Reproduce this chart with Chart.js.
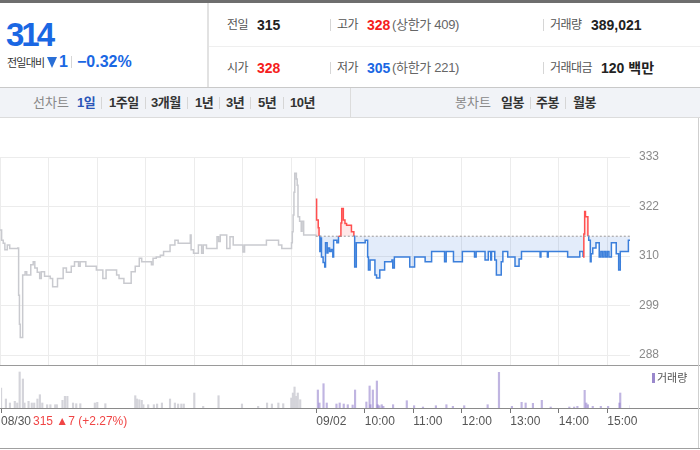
<!DOCTYPE html>
<html lang="ko">
<head>
<meta charset="utf-8">
<title>시세 차트</title>
<script src="https://cdn.jsdelivr.net/npm/chart.js@4.4.0/dist/chart.umd.min.js"></script>
<style>
    body { margin: 0; background: #fff; font-family: "Liberation Sans", "Noto Sans CJK KR", sans-serif; }
    #wrap { position: relative; width: 700px; height: 450px; overflow: hidden; background: #fff; }
    .t { position: absolute; white-space: nowrap; line-height: 16px; }
    .lbl { font-size: 12px; color: #555; letter-spacing: -0.5px; }
    .val { font-size: 14px; font-weight: bold; color: #222; }
    .sub { font-size: 13px; color: #666; letter-spacing: -0.3px; }
    .red { color: #f51d1d; }
    .blue { color: #1a67e3; }
    .line { position: absolute; }
    .tab { font-size: 13px; font-weight: bold; color: #333; letter-spacing: -0.5px; }
    .tabhead { font-size: 13px; color: #888; }
    .bar { position: absolute; width: 1px; height: 12px; background: #d6d6d6; }
    canvas { position: absolute; }
</style>
</head>
<body>
<div id="wrap">
    <!-- 상단 시세 영역 -->
    <div class="line" style="left:0;top:0;width:700px;height:3px;background:#6e6e6e"></div>
    <div class="t blue" style="left:6px;top:17px;font-size:33px;line-height:36px;font-weight:bold;letter-spacing:-3px">314</div>
    <div class="t" style="left:7px;top:55px;font-size:11px;color:#333;letter-spacing:-0.8px">전일대비</div>
    <div class="line" style="left:47px;top:57px;width:0;height:0;border-left:5.5px solid transparent;border-right:5.5px solid transparent;border-top:11px solid #2a6fd6"></div>
    <div class="t blue" style="left:59px;top:53px;font-size:16px;line-height:18px;font-weight:bold">1</div>
    <div class="bar" style="left:71px;top:56px"></div>
    <div class="t blue" style="left:77px;top:53px;font-size:16px;line-height:18px;font-weight:bold">−0.32%</div>
    <div class="line" style="left:207px;top:3px;width:2px;height:85px;background:#e2e2e2"></div>
    <div class="line" style="left:209px;top:46px;width:491px;height:1px;background:#efefef"></div>

    <div class="t lbl" style="left:227px;top:17px">전일</div>
    <div class="t val" style="left:257px;top:17px">315</div>
    <div class="bar" style="left:330px;top:19px"></div>
    <div class="t lbl" style="left:337px;top:17px">고가</div>
    <div class="t val red" style="left:367px;top:17px">328</div>
    <div class="t sub" style="left:392px;top:17px">(상한가 409)</div>
    <div class="bar" style="left:543px;top:19px"></div>
    <div class="t lbl" style="left:550px;top:17px">거래량</div>
    <div class="t val" style="left:591px;top:17px">389,021</div>

    <div class="t lbl" style="left:227px;top:60px">시가</div>
    <div class="t val red" style="left:257px;top:60px">328</div>
    <div class="bar" style="left:330px;top:62px"></div>
    <div class="t lbl" style="left:337px;top:60px">저가</div>
    <div class="t val blue" style="left:367px;top:60px">305</div>
    <div class="t sub" style="left:392px;top:60px">(하한가 221)</div>
    <div class="bar" style="left:543px;top:62px"></div>
    <div class="t lbl" style="left:550px;top:60px">거래대금</div>
    <div class="t val" style="left:601px;top:60px">120 백만</div>

    <!-- 기간 탭 -->
    <div class="line" style="left:0;top:87px;width:700px;height:31px;background:#f1f3f7;border-top:1px solid #c9c9c9;border-bottom:1px solid #dcdcdc;box-sizing:border-box"></div>
    <div class="line" style="left:350px;top:88px;width:1px;height:30px;background:#dcdcdc"></div>
    <div class="t tabhead" style="left:33px;top:95px">선차트</div>
    <div class="t tab" style="left:77px;top:95px;color:#2b56b8">1일</div>
    <div class="bar" style="left:101px;top:97px"></div>
    <div class="t tab" style="left:109px;top:95px">1주일</div>
    <div class="bar" style="left:145px;top:97px"></div>
    <div class="t tab" style="left:151px;top:95px">3개월</div>
    <div class="bar" style="left:187px;top:97px"></div>
    <div class="t tab" style="left:195px;top:95px">1년</div>
    <div class="bar" style="left:219px;top:97px"></div>
    <div class="t tab" style="left:226px;top:95px">3년</div>
    <div class="bar" style="left:250px;top:97px"></div>
    <div class="t tab" style="left:258px;top:95px">5년</div>
    <div class="bar" style="left:283px;top:97px"></div>
    <div class="t tab" style="left:290px;top:95px">10년</div>
    <div class="t tabhead" style="left:455px;top:95px">봉차트</div>
    <div class="t tab" style="left:501px;top:95px">일봉</div>
    <div class="bar" style="left:530px;top:97px"></div>
    <div class="t tab" style="left:536px;top:95px">주봉</div>
    <div class="bar" style="left:565px;top:97px"></div>
    <div class="t tab" style="left:573px;top:95px">월봉</div>

    <!-- 차트 -->
    <canvas id="volumeChart" width="700" height="72" style="left:0;top:366px;width:700px;height:72px"></canvas>
    <canvas id="priceChart" width="700" height="224" style="left:0;top:149px;width:700px;height:224px"></canvas>
    <div class="line" style="left:0;top:365px;width:700px;height:1px;background:#9a9a9a"></div>
    <div class="line" style="left:0;top:408px;width:700px;height:1px;background:#8a8a8a"></div>
    <div class="line" style="left:0;top:448px;width:700px;height:1px;background:#a0a0a0"></div>
    <div class="line" style="left:698px;top:118px;width:1px;height:330px;background:#cfcfcf"></div>

    <div class="line" style="left:652px;top:373px;width:3px;height:10px;background:#9a88cc"></div>
    <div class="t" style="left:657px;top:370px;font-size:11px;color:#555">거래량</div>
    <div class="t" style="left:33px;top:413px;font-size:12px;color:#f04545">315 ▲7 (+2.27%)</div>
</div>

<script>
// 전일(08/30) 분봉 - 장 시작 후 경과 분, 가격
const prevMinutes = [0, 2, 4, 6, 9, 12, 22, 23, 24, 25, 27, 28, 31, 33, 38, 41, 43, 46, 49, 51, 55, 62, 65, 71, 78, 82, 88, 92, 97, 99, 106, 119, 127, 131, 144, 147, 153, 162, 167, 172, 175, 187, 189, 193, 198, 202, 210, 216, 220, 235, 236, 239, 245, 249, 251, 255, 268, 270, 272, 280, 284, 288, 300, 302, 329, 344, 348, 360, 361, 362, 363, 364, 366, 367, 368, 370, 372, 373, 375, 390];
const prevPrices = [316.4, 314.1, 313.4, 311.9, 313, 312.2, 312.3, 301.6, 295, 292, 292, 306.2, 306.9, 306.2, 308.5, 309.2, 307.8, 306.8, 305.4, 306.9, 305.9, 305.4, 303.5, 305.4, 307.8, 306.8, 308.2, 309.2, 308.2, 309.2, 308.2, 307.3, 305.4, 307.3, 306.2, 305.4, 304.3, 306.9, 308.2, 310, 309.2, 308.5, 310, 310.3, 310.7, 311.5, 313, 314.1, 313.4, 315.3, 311.9, 311.1, 313, 311.1, 313, 312.2, 314.9, 313.8, 315.3, 312.2, 314.9, 313, 311.4, 313, 314.1, 313, 312.2, 313.5, 316, 319.8, 325, 329.3, 328, 326.6, 319.4, 318.4, 316.1, 318.4, 315.3, 315];

// 당일(09/02) 분봉
const todayMinutes = [0, 1, 3, 4, 5, 6, 7, 9, 11, 12, 14, 15, 17, 19, 21, 22, 26, 28, 31, 32, 34, 36, 38, 44, 47, 48, 50, 61, 64, 65, 67, 73, 75, 79, 85, 94, 95, 97, 116, 122, 135, 143, 159, 161, 170, 181, 196, 198, 209, 213, 216, 217, 221, 223, 229, 231, 237, 246, 251, 254, 277, 278, 286, 287, 311, 326, 330, 331, 332, 333, 336, 337, 339, 340, 342, 346, 350, 352, 354, 356, 358, 360, 362, 365, 371, 374, 376, 386, 389];
const todayPrices = [323.4, 318.7, 316.9, 315, 311.5, 314.6, 310.3, 309, 308, 313.5, 311.2, 312.3, 311.5, 312, 310.3, 314.1, 313.5, 315, 318, 321.3, 318.7, 317.9, 317.5, 316, 315, 308, 313.5, 314.1, 310.3, 307.3, 309.6, 306.2, 305.5, 307.3, 309.2, 309.6, 307.8, 310.3, 308, 310.3, 309.2, 311.5, 309.2, 311.5, 309.2, 311.5, 310.3, 311.5, 309.6, 311.5, 309.6, 311.5, 309.6, 306.2, 309.2, 311.5, 310.3, 308.2, 309.8, 311.5, 310.3, 311.5, 310.3, 311.5, 310.3, 311.5, 310.3, 315.5, 320.6, 319.4, 315, 314.1, 309.2, 311, 312.3, 313.5, 310.3, 311.5, 310.3, 311.5, 310.3, 311.5, 310.3, 313.5, 311, 307.3, 311.5, 314.1, 314.1];

// 거래량
const prevVolMinutes = [1, 7, 12, 18, 21, 24, 28, 30, 35, 39, 42, 46, 49, 52, 58, 62, 68, 70, 77, 80, 83, 90, 94, 99, 117, 120, 130, 167, 169, 172, 175, 177, 183, 190, 194, 200, 210, 216, 220, 224, 227, 240, 251, 270, 299, 319, 330, 336, 344, 350, 360, 362, 364, 366, 368, 371];
const prevVolumes = [20000, 9000, 5000, 6700, 5000, 36000, 29000, 5000, 6700, 5000, 5000, 9000, 13300, 5000, 3300, 3300, 3300, 3300, 7700, 11700, 11700, 5000, 4300, 4300, 5000, 5700, 4300, 12300, 9000, 8300, 7700, 3300, 3300, 3300, 4000, 5000, 9000, 5000, 4000, 4000, 4000, 15000, 1700, 12300, 4000, 1700, 5000, 4000, 5000, 4300, 10000, 15000, 21000, 11700, 15000, 8300];
const todayVolMinutes = [1, 3, 8, 12, 24, 28, 33, 38, 44, 47, 61, 65, 66, 69, 74, 75, 77, 80, 82, 94, 111, 120, 131, 147, 160, 168, 182, 211, 225, 241, 253, 258, 267, 278, 289, 312, 318, 322, 331, 333, 335, 341, 351, 360, 374, 375, 388];
const todayVolumes = [18000, 5000, 24300, 5000, 4000, 5000, 4000, 3300, 3000, 18000, 6000, 22000, 3300, 18000, 27000, 3300, 2300, 3300, 1700, 3300, 7300, 2300, 1000, 2300, 3300, 1700, 2300, 3300, 35700, 1700, 5700, 5000, 4700, 7700, 1000, 1000, 1000, 1700, 17700, 5000, 3300, 1700, 1700, 1700, 5000, 15000, 2300];

const prevClose = 315;
const dayLength = 390;
const axisEnd = 778;
const priceMin = 285.73;
const priceMax = 333;
const priceTicks = [288, 299.25, 310.5, 321.75, 333];
const priceTickLabels = ['288', '299', '310', '322', '333'];
const gridMinutes = [0, 60, 120, 180, 240, 300, 360, 390, 450, 510, 570, 630, 690, 750];
const timeTickMinutes = [0, 390, 450, 510, 570, 630, 690, 750];
const timeTickLabels = ['08/30', '09/02', '10:00', '11:00', '12:00', '13:00', '14:00', '15:00'];

const RED = '#ff4f4f';
const BLUE = '#3b7fdb';

function toPoints(xs, ys, offset) {
    return xs.map((x, i) => ({ x: x + offset, y: ys[i] }));
}

document.addEventListener('DOMContentLoaded', function() {
    drawPriceChart();
    drawVolumeChart();
});

// 가격 차트
function drawPriceChart() {
    const ctx = document.getElementById('priceChart').getContext('2d');
    new Chart(ctx, {
        type: 'line',
        data: {
            datasets: [
                {
                    // 전일 종가 기준선
                    data: [{ x: dayLength, y: prevClose }, { x: axisEnd, y: prevClose }],
                    borderColor: '#9a9a9a',
                    borderWidth: 1,
                    borderDash: [2, 2],
                    fill: false
                },
                {
                    data: toPoints(prevMinutes, prevPrices, 0),
                    borderColor: '#c9cacf',
                    borderWidth: 1.5,
                    stepped: true,
                    fill: false
                },
                {
                    data: toPoints(todayMinutes, todayPrices, dayLength),
                    borderColor: BLUE,
                    borderWidth: 1.5,
                    stepped: true,
                    fill: {
                        target: { value: prevClose },
                        above: 'rgba(255, 90, 90, 0.14)',
                        below: 'rgba(60, 120, 220, 0.14)'
                    },
                    segment: {
                        borderColor: c => (c.p0.parsed.y > prevClose || c.p1.parsed.y > prevClose) ? RED : BLUE
                    }
                }
            ]
        },
        options: {
            responsive: false,
            animation: false,
            parsing: false,
            elements: { point: { radius: 0, hoverRadius: 0 } },
            layout: { autoPadding: false, padding: { top: 8, right: 0, left: 0, bottom: 8 } },
            plugins: { legend: { display: false }, tooltip: { enabled: false } },
            scales: {
                x: {
                    type: 'linear',
                    min: 0,
                    max: axisEnd,
                    afterBuildTicks: scale => { scale.ticks = gridMinutes.map(v => ({ value: v })); },
                    afterFit: scale => { scale.height = 0; },
                    ticks: { display: false },
                    grid: { color: '#ececec', drawTicks: false },
                    border: { display: false }
                },
                y: {
                    position: 'right',
                    min: priceMin,
                    max: priceMax,
                    afterBuildTicks: scale => { scale.ticks = priceTicks.map(v => ({ value: v })); },
                    afterFit: scale => { scale.width = 70; },
                    ticks: {
                        padding: 0,
                        color: '#8a8a8a',
                        font: { size: 12, family: 'Liberation Sans', lineHeight: 1 },
                        callback: (v, i) => priceTickLabels[i]
                    },
                    grid: { color: '#ececec', drawTicks: true, tickLength: 9, tickColor: 'rgba(0,0,0,0)' },
                    border: { display: false }
                }
            }
        }
    });
}

// 거래량 차트
function drawVolumeChart() {
    const ctx = document.getElementById('volumeChart').getContext('2d');
    new Chart(ctx, {
        type: 'bar',
        data: {
            datasets: [
                {
                    data: toPoints(prevVolMinutes, prevVolumes, 0),
                    backgroundColor: '#d4d4da',
                    barThickness: 1.5
                },
                {
                    data: toPoints(todayVolMinutes, todayVolumes, dayLength),
                    backgroundColor: 'rgba(140, 120, 200, 0.55)',
                    barThickness: 1.5
                }
            ]
        },
        options: {
            responsive: false,
            animation: false,
            layout: { autoPadding: false, padding: { top: 0, right: 70, left: 0, bottom: 0 } },
            plugins: { legend: { display: false }, tooltip: { enabled: false } },
            scales: {
                x: {
                    type: 'linear',
                    offset: false,
                    min: 0,
                    max: axisEnd,
                    afterBuildTicks: scale => { scale.ticks = timeTickMinutes.map(v => ({ value: v })); },
                    afterFit: scale => { scale.height = 30; },
                    ticks: {
                        align: 'start',
                        autoSkip: false,
                        maxRotation: 0,
                        padding: 1,
                        color: '#555',
                        font: { size: 12, family: 'Liberation Sans' },
                        callback: (v, i) => timeTickLabels[i]
                    },
                    grid: { offset: false, drawOnChartArea: false, drawTicks: true, tickLength: 5, color: '#777' },
                    border: { display: false }
                },
                y: {
                    display: false,
                    min: 0,
                    max: 42000
                }
            }
        }
    });
}
</script>
</body>
</html>
